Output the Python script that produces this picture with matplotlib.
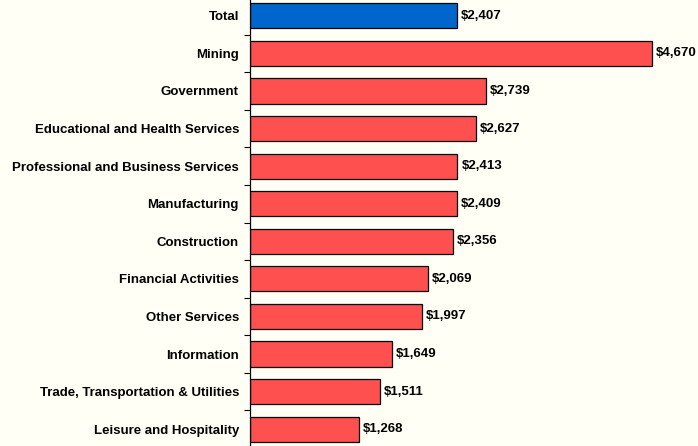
import matplotlib.pyplot as plt
import numpy as np

plt.rcParams['font.family'] = ['Liberation Sans', 'DejaVu Sans']

# Data (top to bottom as shown)
industries = ["Total", "Mining", "Government", "Educational and Health Services",
              "Professional and Business Services", "Manufacturing", "Construction",
              "Financial Activities", "Other Services", "Information",
              "Trade, Transportation & Utilities", "Leisure and Hospitality"]
values = [2407, 4670, 2739, 2627, 2413, 2409, 2356, 2069, 1997, 1649, 1511, 1268]
colors = ["#0066CC"] + ["#FF5050"] * (len(values) - 1)

bg = "#FFFFF5"
fig = plt.figure(figsize=(6.98, 4.46), dpi=100, facecolor=bg)
ax = fig.add_axes([250 / 698, -2 / 446, 448 / 698, 451 / 446])
ax.set_facecolor(bg)

y = np.arange(len(values))
ax.barh(y, values, height=0.67, color=colors, edgecolor="black", linewidth=0.9)

for yi, v in zip(y, values):
    ax.text(v + 45, yi, f"${v:,}", va="center", ha="left", fontsize=9.5,
            fontweight="bold", clip_on=False)

ax.set_ylim(len(values) - 0.5, -0.5)
ax.set_xlim(0, 5210)
ax.set_yticks(y)
ax.set_yticklabels(industries, fontsize=9.5, fontweight="bold")
ax.tick_params(axis="y", which="major", length=0, pad=8)
ax.set_yticks(np.arange(0.5, len(values) - 1, 1), minor=True)
ax.tick_params(axis="y", which="minor", length=4, width=0.8, direction="out")
ax.set_xticks([])
for s in ["top", "right", "bottom"]:
    ax.spines[s].set_visible(False)
ax.spines["left"].set_linewidth(0.9)

fig.savefig("out.png", dpi=100, facecolor=bg)
